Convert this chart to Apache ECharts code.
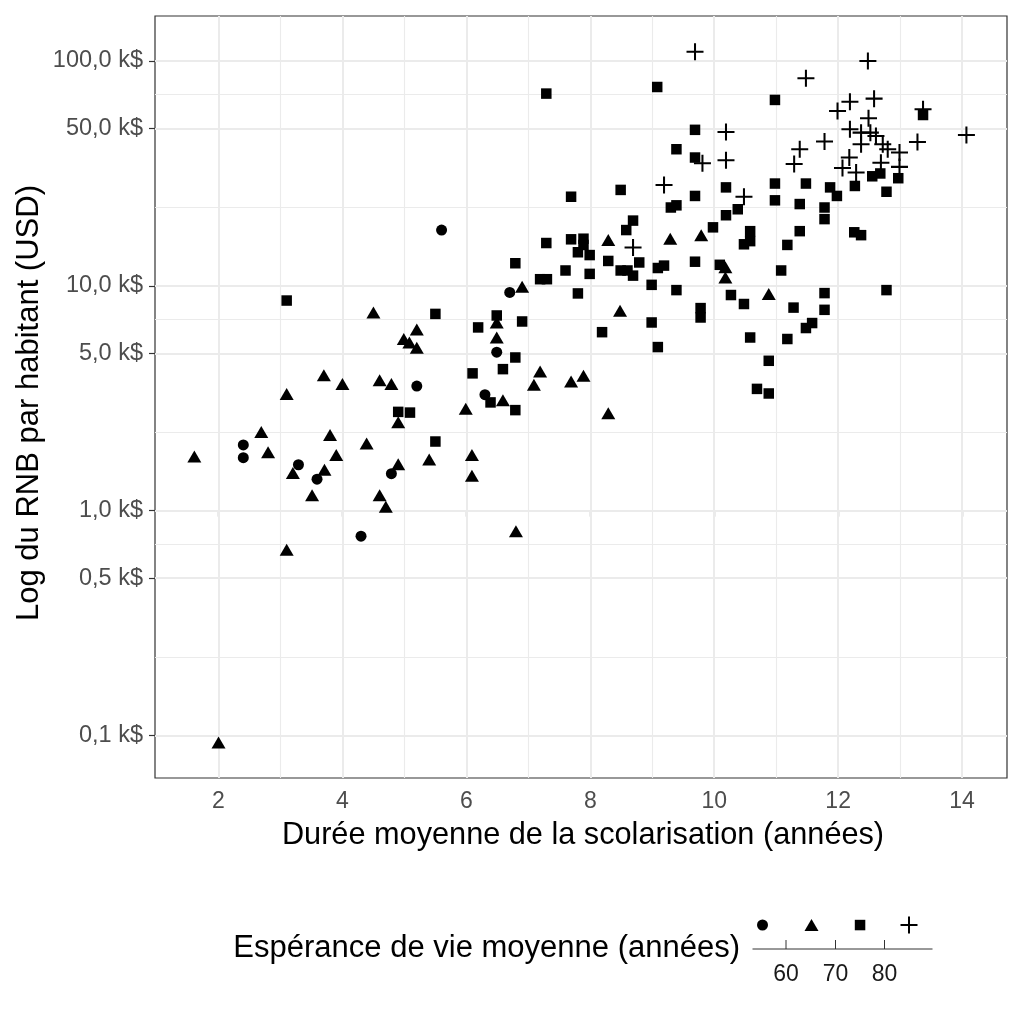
<!DOCTYPE html>
<html>
<head>
  <meta charset="utf-8">
  <title>RNB et scolarisation</title>
  <script src="https://cdn.jsdelivr.net/npm/echarts@6.0.0/dist/echarts.min.js"></script>
  <style>
    html, body { margin: 0; padding: 0; background: #fff; }
    #chart { width: 1024px; height: 1024px; }
  </style>
</head>
<body>
<div id="chart"></div>
<script>
  // espérance de vie < 60 ans (ronds)
  const rondX = [5.60, 5.20, 2.40, 2.40, 3.29, 3.59, 4.79, 4.30, 6.70, 6.49, 6.30];
  const rondY = [17.7, 3.58, 1.96, 1.72, 1.60, 1.38, 1.46, 0.77, 9.34, 5.07, 3.28];

  // 60 - 70 ans (triangles)
  const triX = [2.00, 6.80, 4.50, 5.20, 4.99, 5.08, 5.20, 3.70, 4.00, 4.60, 4.79, 3.10, 4.90, 2.69, 3.80, 1.61,
                2.80, 4.39, 3.90, 3.20, 3.71, 4.90, 5.40, 3.51, 4.60, 4.70, 3.10, 8.29, 9.29, 9.79, 6.90, 8.48,
                6.49, 6.49, 7.19, 7.09, 7.69, 7.89, 6.59, 5.99, 8.29, 6.09, 6.09, 10.18, 10.18, 10.88];
  const triY = [0.093, 0.81, 7.6, 6.4, 5.8, 5.6, 5.3, 4.0, 3.66, 3.8, 3.66, 3.3, 2.47, 2.24, 2.17, 1.74,
                1.82, 1.99, 1.77, 1.47, 1.52, 1.61, 1.69, 1.17, 1.17, 1.04, 0.67, 16.0, 16.2, 16.8, 9.9, 7.74,
                6.87, 5.89, 4.16, 3.63, 3.75, 3.98, 3.1, 2.84, 2.71, 1.77, 1.43, 12.1, 10.9, 9.19];

  // 70 - 80 ans (carrés)
  const carreX = [3.10, 5.50, 4.90, 5.09, 5.50, 7.29, 9.08, 10.98, 13.37, 9.69, 9.39, 9.69, 7.69, 8.49, 9.69, 9.30,
                  9.39, 9.98, 8.69, 8.58, 7.29, 7.69, 7.89, 7.89, 7.80, 7.99, 9.69, 10.09, 6.79, 8.29, 8.79, 8.49,
                  8.60, 8.69, 9.09, 9.19, 7.60, 7.99, 7.19, 7.30, 7.80, 8.99, 9.39, 8.99, 9.78, 9.78, 9.09, 8.19,
                  6.49, 6.19, 6.90, 6.79, 6.59, 6.10, 6.39, 6.79, 12.55, 12.68, 12.97, 12.27, 12.78, 10.19, 10.98, 11.48,
                  11.87, 11.98, 10.98, 11.38, 10.19, 10.38, 11.78, 11.78, 10.58, 10.58, 10.48, 11.38, 11.18, 12.26, 12.37, 11.08,
                  10.27, 10.48, 11.28, 11.78, 11.78, 11.48, 11.58, 12.78, 10.58, 11.18, 10.88, 10.69, 10.88];
  const carreY = [8.6, 7.5, 2.75, 2.73, 2.03, 71.6, 76.6, 67.1, 57.5, 49.4, 40.5, 37.2, 24.9, 26.7, 25.1, 22.3,
                  22.8, 18.2, 19.5, 17.7, 15.5, 16.1, 16.2, 15.2, 14.1, 13.7, 12.8, 12.4, 12.6, 12.9, 12.7, 11.7,
                  11.7, 11.1, 12.0, 12.3, 11.7, 11.3, 10.7, 10.7, 9.25, 10.1, 9.57, 6.87, 7.96, 7.23, 5.34, 6.22,
                  7.38, 6.53, 6.94, 4.8, 4.26, 4.08, 3.03, 2.8, 30.7, 31.6, 30.1, 27.8, 26.2, 27.4, 28.5, 28.5,
                  27.4, 25.1, 24.0, 23.1, 20.6, 21.9, 22.3, 19.8, 17.5, 15.8, 15.3, 17.5, 15.2, 17.3, 16.8, 11.7,
                  9.1, 8.3, 8.0, 9.28, 7.82, 6.49, 6.83, 9.57, 5.89, 5.8, 4.64, 3.48, 3.32];

  // > 80 ans (croix)
  const croixX = [9.69, 12.48, 11.48, 12.19, 12.58, 11.99, 12.49, 13.37, 14.07, 12.19, 10.19, 13.28, 11.78, 11.38, 12.99, 12.99,
                  9.81, 10.19, 11.29, 12.18, 12.07, 12.29, 12.69, 10.48, 9.19, 8.69, 12.37, 12.52, 12.61, 12.72, 12.80, 12.37];
  const croixY = [110, 100, 83.7, 65.9, 68.0, 59.9, 55.6, 61, 46.9, 49.7, 48.3, 43.6, 43.8, 40.5, 39.2, 33.8,
                  35.1, 36.2, 34.8, 37.2, 33.4, 31.9, 35.3, 24.9, 28.1, 14.8, 48.0, 48.0, 46.4, 42.6, 40.5, 42.6];

  // graduations
  const xBreaks = [2, 4, 6, 8, 10, 12, 14];
  const xMinor = [3, 5, 7, 9, 11, 13];
  const yBreaks = [0.1, 0.5, 1, 5, 10, 50, 100];
  const legendBreaks = ['60', '70', '80'];

  const log = v => Math.log10(v);
  const yMajor = yBreaks.map(log);
  const yMinor = [];
  for (let i = 0; i < yMajor.length - 1; i++) yMinor.push((yMajor[i] + yMajor[i + 1]) / 2);

  const pts = (xs, ys) => xs.map((x, i) => [x, log(ys[i])]);

  const FONT = 'Liberation Sans, Arial, Helvetica, sans-serif';
  const croixPath = 'path://M4.4,0H5.6V4.4H10V5.6H5.6V10H4.4V5.6H0V4.4H4.4Z';

  const gridLines = [];
  xBreaks.forEach(v => gridLines.push({ xAxis: v, lineStyle: { width: 2 } }));
  xMinor.forEach(v => gridLines.push({ xAxis: v, lineStyle: { width: 1.1 } }));
  yMajor.forEach(v => gridLines.push({ yAxis: v, lineStyle: { width: 2 } }));
  yMinor.forEach(v => gridLines.push({ yAxis: v, lineStyle: { width: 1.1 } }));

  let myChart = echarts.init(document.getElementById('chart'), null, { renderer: 'canvas' });

  let option = {
    animation: false,
    backgroundColor: '#fff',
    grid: {
      left: 155, top: 16, width: 852, height: 762,
      show: true, borderColor: '#333333', borderWidth: 1.2, backgroundColor: 'transparent',
      containLabel: false, outerBoundsMode: 'none'
    },
    xAxis: {
      type: 'value', min: 0.975, max: 14.725,
      axisLine: { show: false },
      splitLine: { show: false },
      axisTick: { show: true, customValues: xBreaks, length: 6, lineStyle: { color: '#333333', width: 1.2 } },
      axisLabel: { customValues: xBreaks, margin: 12, color: '#4D4D4D', fontSize: 23, fontFamily: FONT }
    },
    yAxis: {
      type: 'value', min: -1.189, max: 2.2,
      axisLine: { show: false },
      splitLine: { show: false },
      axisTick: { show: true, customValues: yMajor, length: 6, lineStyle: { color: '#333333', width: 1.2 } },
      axisLabel: {
        customValues: yMajor, margin: 12, color: '#4D4D4D', fontSize: 23.5, fontFamily: FONT,
        formatter: function (v) {
          return Math.pow(10, v).toFixed(1).replace('.', ',') + ' k$';
        }
      }
    },
    series: [
      {
        // quadrillage
        type: 'scatter', data: [], z: 0, silent: true,
        markLine: {
          silent: true, symbol: 'none', animation: false,
          label: { show: false },
          lineStyle: { color: '#EBEBEB', type: 'solid' },
          emphasis: { disabled: true },
          data: gridLines
        }
      },
      {
        name: '< 60', type: 'scatter', z: 5, data: pts(rondX, rondY),
        symbol: 'circle', symbolSize: 11, itemStyle: { color: '#000', opacity: 1 }
      },
      {
        name: '60-70', type: 'scatter', z: 5, data: pts(triX, triY),
        symbol: 'triangle', symbolSize: [14, 12], itemStyle: { color: '#000', opacity: 1 }
      },
      {
        name: '70-80', type: 'scatter', z: 5, data: pts(carreX, carreY),
        symbol: 'rect', symbolSize: 10.5, itemStyle: { color: '#000', opacity: 1 }
      },
      {
        name: '> 80', type: 'scatter', z: 5, data: pts(croixX, croixY),
        symbol: croixPath, symbolSize: 17, itemStyle: { color: '#000', opacity: 1 }
      }
    ],
    graphic: [
      // titres des axes
      {
        type: 'text', x: 583, y: 836,
        style: { text: 'Durée moyenne de la scolarisation (années)', font: '30.7px ' + FONT, fill: '#000', align: 'center', verticalAlign: 'middle' }
      },
      {
        type: 'text', x: 29, y: 403, rotation: Math.PI / 2,
        style: { text: 'Log du RNB par habitant (USD)', font: '31px ' + FONT, fill: '#000', align: 'center', verticalAlign: 'middle' }
      },
      // légende
      {
        type: 'text', x: 740, y: 948,
        style: { text: 'Espérance de vie moyenne (années)', font: '31px ' + FONT, fill: '#000', align: 'right', verticalAlign: 'middle' }
      },
      { type: 'circle', shape: { cx: 762.5, cy: 925, r: 5.5 }, style: { fill: '#000' } },
      { type: 'polygon', shape: { points: [[811.5, 919], [818.5, 931], [804.5, 931]] }, style: { fill: '#000' } },
      { type: 'rect', shape: { x: 854.8, y: 919.8, width: 10.5, height: 10.5 }, style: { fill: '#000' } },
      { type: 'rect', shape: { x: 900.5, y: 924, width: 17, height: 2 }, style: { fill: '#000' } },
      { type: 'rect', shape: { x: 908, y: 916.5, width: 2, height: 17 }, style: { fill: '#000' } },
      { type: 'line', shape: { x1: 752.5, y1: 949, x2: 932.5, y2: 949 }, style: { stroke: '#333', lineWidth: 1 } },
      { type: 'line', shape: { x1: 786, y1: 940, x2: 786, y2: 949 }, style: { stroke: '#333', lineWidth: 1 } },
      { type: 'line', shape: { x1: 835.5, y1: 940, x2: 835.5, y2: 949 }, style: { stroke: '#333', lineWidth: 1 } },
      { type: 'line', shape: { x1: 884.5, y1: 940, x2: 884.5, y2: 949 }, style: { stroke: '#333', lineWidth: 1 } },
      {
        type: 'text', x: 786, y: 975,
        style: { text: legendBreaks[0], font: '23px ' + FONT, fill: '#1a1a1a', align: 'center', verticalAlign: 'middle' }
      },
      {
        type: 'text', x: 835.5, y: 975,
        style: { text: legendBreaks[1], font: '23px ' + FONT, fill: '#1a1a1a', align: 'center', verticalAlign: 'middle' }
      },
      {
        type: 'text', x: 884.5, y: 975,
        style: { text: legendBreaks[2], font: '23px ' + FONT, fill: '#1a1a1a', align: 'center', verticalAlign: 'middle' }
      }
    ]
  };
  myChart.setOption(option);
</script>
</body>
</html>
